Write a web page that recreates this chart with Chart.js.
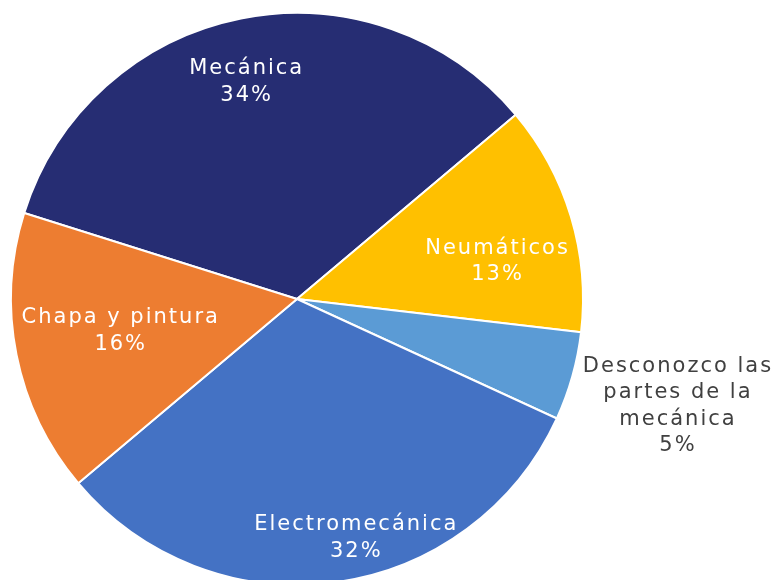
<!DOCTYPE html>
<html>
<head>
    <meta charset="utf-8">
    <title>Pie</title>
    <script src="https://cdn.jsdelivr.net/npm/chart.js"></script>
    <style>
        html, body { margin: 0; padding: 0; overflow: hidden; background: #fff; }
    </style>
</head>
<body>
    <canvas id="pie" width="779" height="600" style="width:779px;height:600px;display:block"></canvas>

    <script>
        // data
        const labels = ["Mecánica", "Neumáticos", "Desconozco las partes de la mecánica", "Electromecánica", "Chapa y pintura"];
        const labelLines = [["Mecánica"], ["Neumáticos"], ["Desconozco las", "partes de la", "mecánica"], ["Electromecánica"], ["Chapa y pintura"]];
        const values = [34, 13, 5, 32, 16];
        const colors = ["#262D73", "#FFC000", "#5B9BD5", "#4472C4", "#ED7D31"];

        // where each label sits: fraction of radius, angle shift (deg), text colour
        const labelRadius = [0.78, 0.71, 1.38, 0.86, 0.63];
        const labelShift = [-2, 6, 0, -6, 1];
        const labelColor = ["#fff", "#fff", "#404040", "#fff", "#fff"];

        const pieLabels = {
            id: 'pieLabels',
            afterDatasetsDraw(chart) {
                const ctx = chart.ctx;
                const meta = chart.getDatasetMeta(0);
                ctx.save();
                ctx.font = '21px "DejaVu Sans", sans-serif';
                ctx.letterSpacing = '2px';
                ctx.textAlign = 'center';
                ctx.textBaseline = 'middle';
                meta.data.forEach((arc, i) => {
                    const p = arc.getProps(['x', 'y', 'startAngle', 'endAngle', 'outerRadius']);
                    const mid = (p.startAngle + p.endAngle) / 2 + labelShift[i] * Math.PI / 180;
                    const r = p.outerRadius * labelRadius[i];
                    const cx = p.x + Math.cos(mid) * r + 1;
                    const cy = p.y + Math.sin(mid) * r;
                    const lines = labelLines[i].concat([values[i] + "%"]);
                    const lh = 26.5;
                    ctx.fillStyle = labelColor[i];
                    lines.forEach((t, k) => {
                        ctx.fillText(t, cx, cy + (k - (lines.length - 1) / 2) * lh);
                    });
                });
                ctx.restore();
            }
        };

        new Chart(document.getElementById('pie'), {
            type: 'pie',
            data: {
                labels: labels,
                datasets: [{
                    data: values,
                    backgroundColor: colors,
                    borderColor: '#fff',
                    borderWidth: 2
                }]
            },
            options: {
                responsive: false,
                animation: false,
                rotation: -72.5,
                layout: { padding: { left: 9, right: 194, top: 12, bottom: 14 } },
                plugins: { legend: { display: false }, tooltip: { enabled: false } }
            },
            plugins: [pieLabels]
        });
    </script>
</body>
</html>
